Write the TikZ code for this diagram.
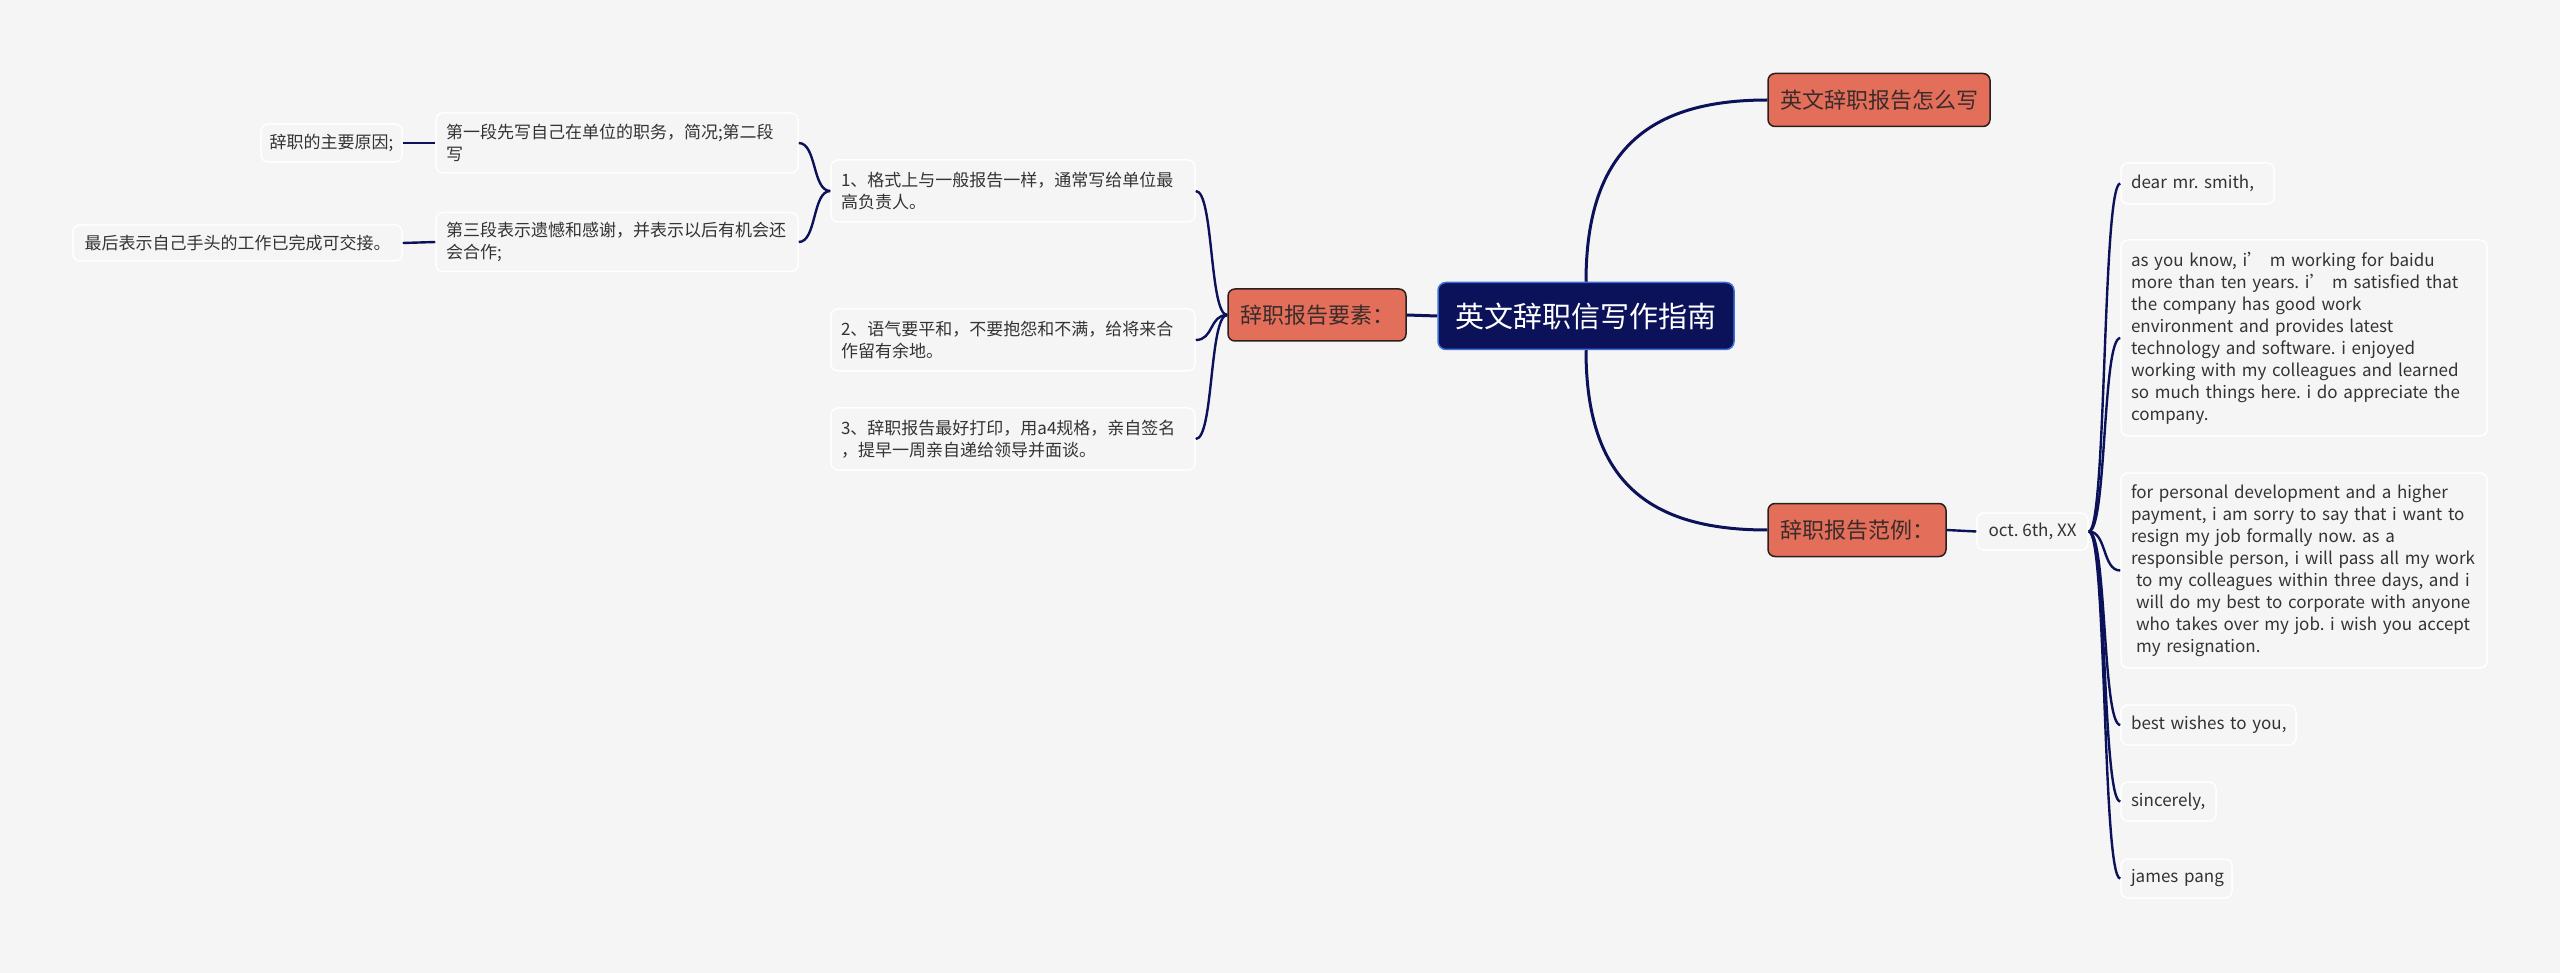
\documentclass[tikz,border=0pt]{standalone}
\usepackage{fontspec}
\setmainfont{Noto Sans CJK SC}
\frenchspacing
\definecolor{bgc}{HTML}{F5F5F5}
\definecolor{navy}{HTML}{0B1259}
\definecolor{rootbd}{HTML}{3B6FD6}
\definecolor{salmon}{HTML}{E36F5A}
\definecolor{brdark}{HTML}{2A1E1E}
\definecolor{btxt}{HTML}{3B2B2B}
\definecolor{txt}{HTML}{333333}
\tikzset{
 leaf/.style={draw=white, line width=1.5pt, fill=bgc, rounded corners=7pt, inner xsep=10pt, inner ysep=0pt, font=\fontsize{17}{22}\selectfont\frenchspacing, text=txt, align=left},
 sleaf/.style={draw=white, line width=1.5pt, fill=bgc, rounded corners=7pt, inner xsep=0pt, inner ysep=0pt, font=\fontsize{17}{22}\selectfont\frenchspacing, text=txt, align=center},
 branch/.style={draw=brdark, line width=1.5pt, fill=salmon, rounded corners=7pt, inner sep=0pt, font=\fontsize{22}{26}\selectfont, text=btxt},
 rootn/.style={draw=rootbd, line width=1.5pt, fill=navy, rounded corners=8pt, inner sep=0pt, font=\fontsize{29}{34}\selectfont, text=white},
 conn/.style={draw=navy, line width=3pt},
 thin/.style={draw=navy, line width=2.4pt}
}
\begin{document}
\begin{tikzpicture}[x=1pt,y=-1pt]
\fill[bgc] (0,0) rectangle (2560,973);
\useasboundingbox (0,0) rectangle (2560,973);

\node[rootn, minimum width=296, minimum height=67] (root) at (1586,316) {英文辞职信写作指南};
\node[branch, minimum width=222, minimum height=53] (b1) at (1879,100) {英文辞职报告怎么写};
\node[branch, minimum width=178, minimum height=53] (b2) at (1857,530) {辞职报告范例：};
\node[branch, minimum width=178, minimum height=52] (b3) at (1317,315) {辞职报告要素：};

\node[leaf, text width=344, minimum height=62] (l1) at (1013,191) {1、格式上与一般报告一样，通常写给单位最\\高负责人。};
\node[leaf, text width=344, minimum height=62] (l2) at (1013,340) {2、语气要平和，不要抱怨和不满，给将来合\\作留有余地。};
\node[leaf, text width=344, minimum height=62] (l3) at (1013,439) {3、辞职报告最好打印，用a4规格，亲自签名\\，提早一周亲自递给领导并面谈。};

\node[leaf, text width=342, minimum height=60] (m1) at (617,143) {第一段先写自己在单位的职务，简况;第二段\\写};
\node[leaf, text width=342, minimum height=59] (m2) at (617,242) {第三段表示遗憾和感谢，并表示以后有机会还\\会合作;};

\node[sleaf, minimum width=141, minimum height=38] (n1) at (331.5,143) {辞职的主要原因;};
\node[sleaf, minimum width=329, minimum height=36] (n2) at (237.5,243) {最后表示自己手头的工作已完成可交接。};

\node[sleaf, minimum width=111, minimum height=37] (oct) at (2032.5,531.5) {oct. 6th, XX};

\node[leaf, text width=133, minimum height=41] (r1) at (2197.5,183.5) {\mbox{dear mr. smith,}};
\node[leaf, text width=346, minimum height=196] (r2) at (2304,338) {as you know, i’ m working for baidu\\more than ten years. i’ m satisfied that\\the company has good work\\environment and provides latest\\technology and software. i enjoyed\\working with my colleagues and learned\\so much things here. i do appreciate the\\company.};
\node[leaf, text width=346, minimum height=195] (r3) at (2304,570.5) {for personal development and a higher\\payment, i am sorry to say that i want to\\resign my job formally now. as a\\responsible person, i will pass all my work\\\hspace*{5pt}to my colleagues within three days, and i\\\hspace*{5pt}will do my best to corporate with anyone\\\hspace*{5pt}who takes over my job. i wish you accept\\\hspace*{5pt}my resignation.};
\node[leaf, text width=155, minimum height=40] (r4) at (2208.5,725) {\mbox{best wishes to you,}};
\node[leaf, text width=75, minimum height=39] (r5) at (2168.5,801.5) {\mbox{sincerely,}};
\node[leaf, text width=91, minimum height=39] (r6) at (2176.5,878.5) {\mbox{james pang}};

% connectors
\draw[conn] (root.north) .. controls +(0,-130) and +(-120,0) .. (b1.west);
\draw[conn] (root.south) .. controls +(0,130) and +(-120,0) .. (b2.west);
\draw[conn] (root.west) -- (b3.east);

\foreach \t in {l1,l2,l3}
  \draw[thin] (b3.west) .. controls +(-18,0) and +(18,0) .. (\t.east);
\foreach \t in {m1,m2}
  \draw[thin] (l1.west) .. controls +(-18,0) and +(18,0) .. (\t.east);
\draw[thin] (m1.west) -- (n1.east);
\draw[thin] (m2.west) -- (n2.east);
\draw[thin] (b2.east) -- (oct.west);
\foreach \t in {r1,r2,r3,r4,r5,r6}
  \draw[thin] (oct.east) .. controls +(18,0) and +(-18,0) .. (\t.west);
\end{tikzpicture}
\end{document}
